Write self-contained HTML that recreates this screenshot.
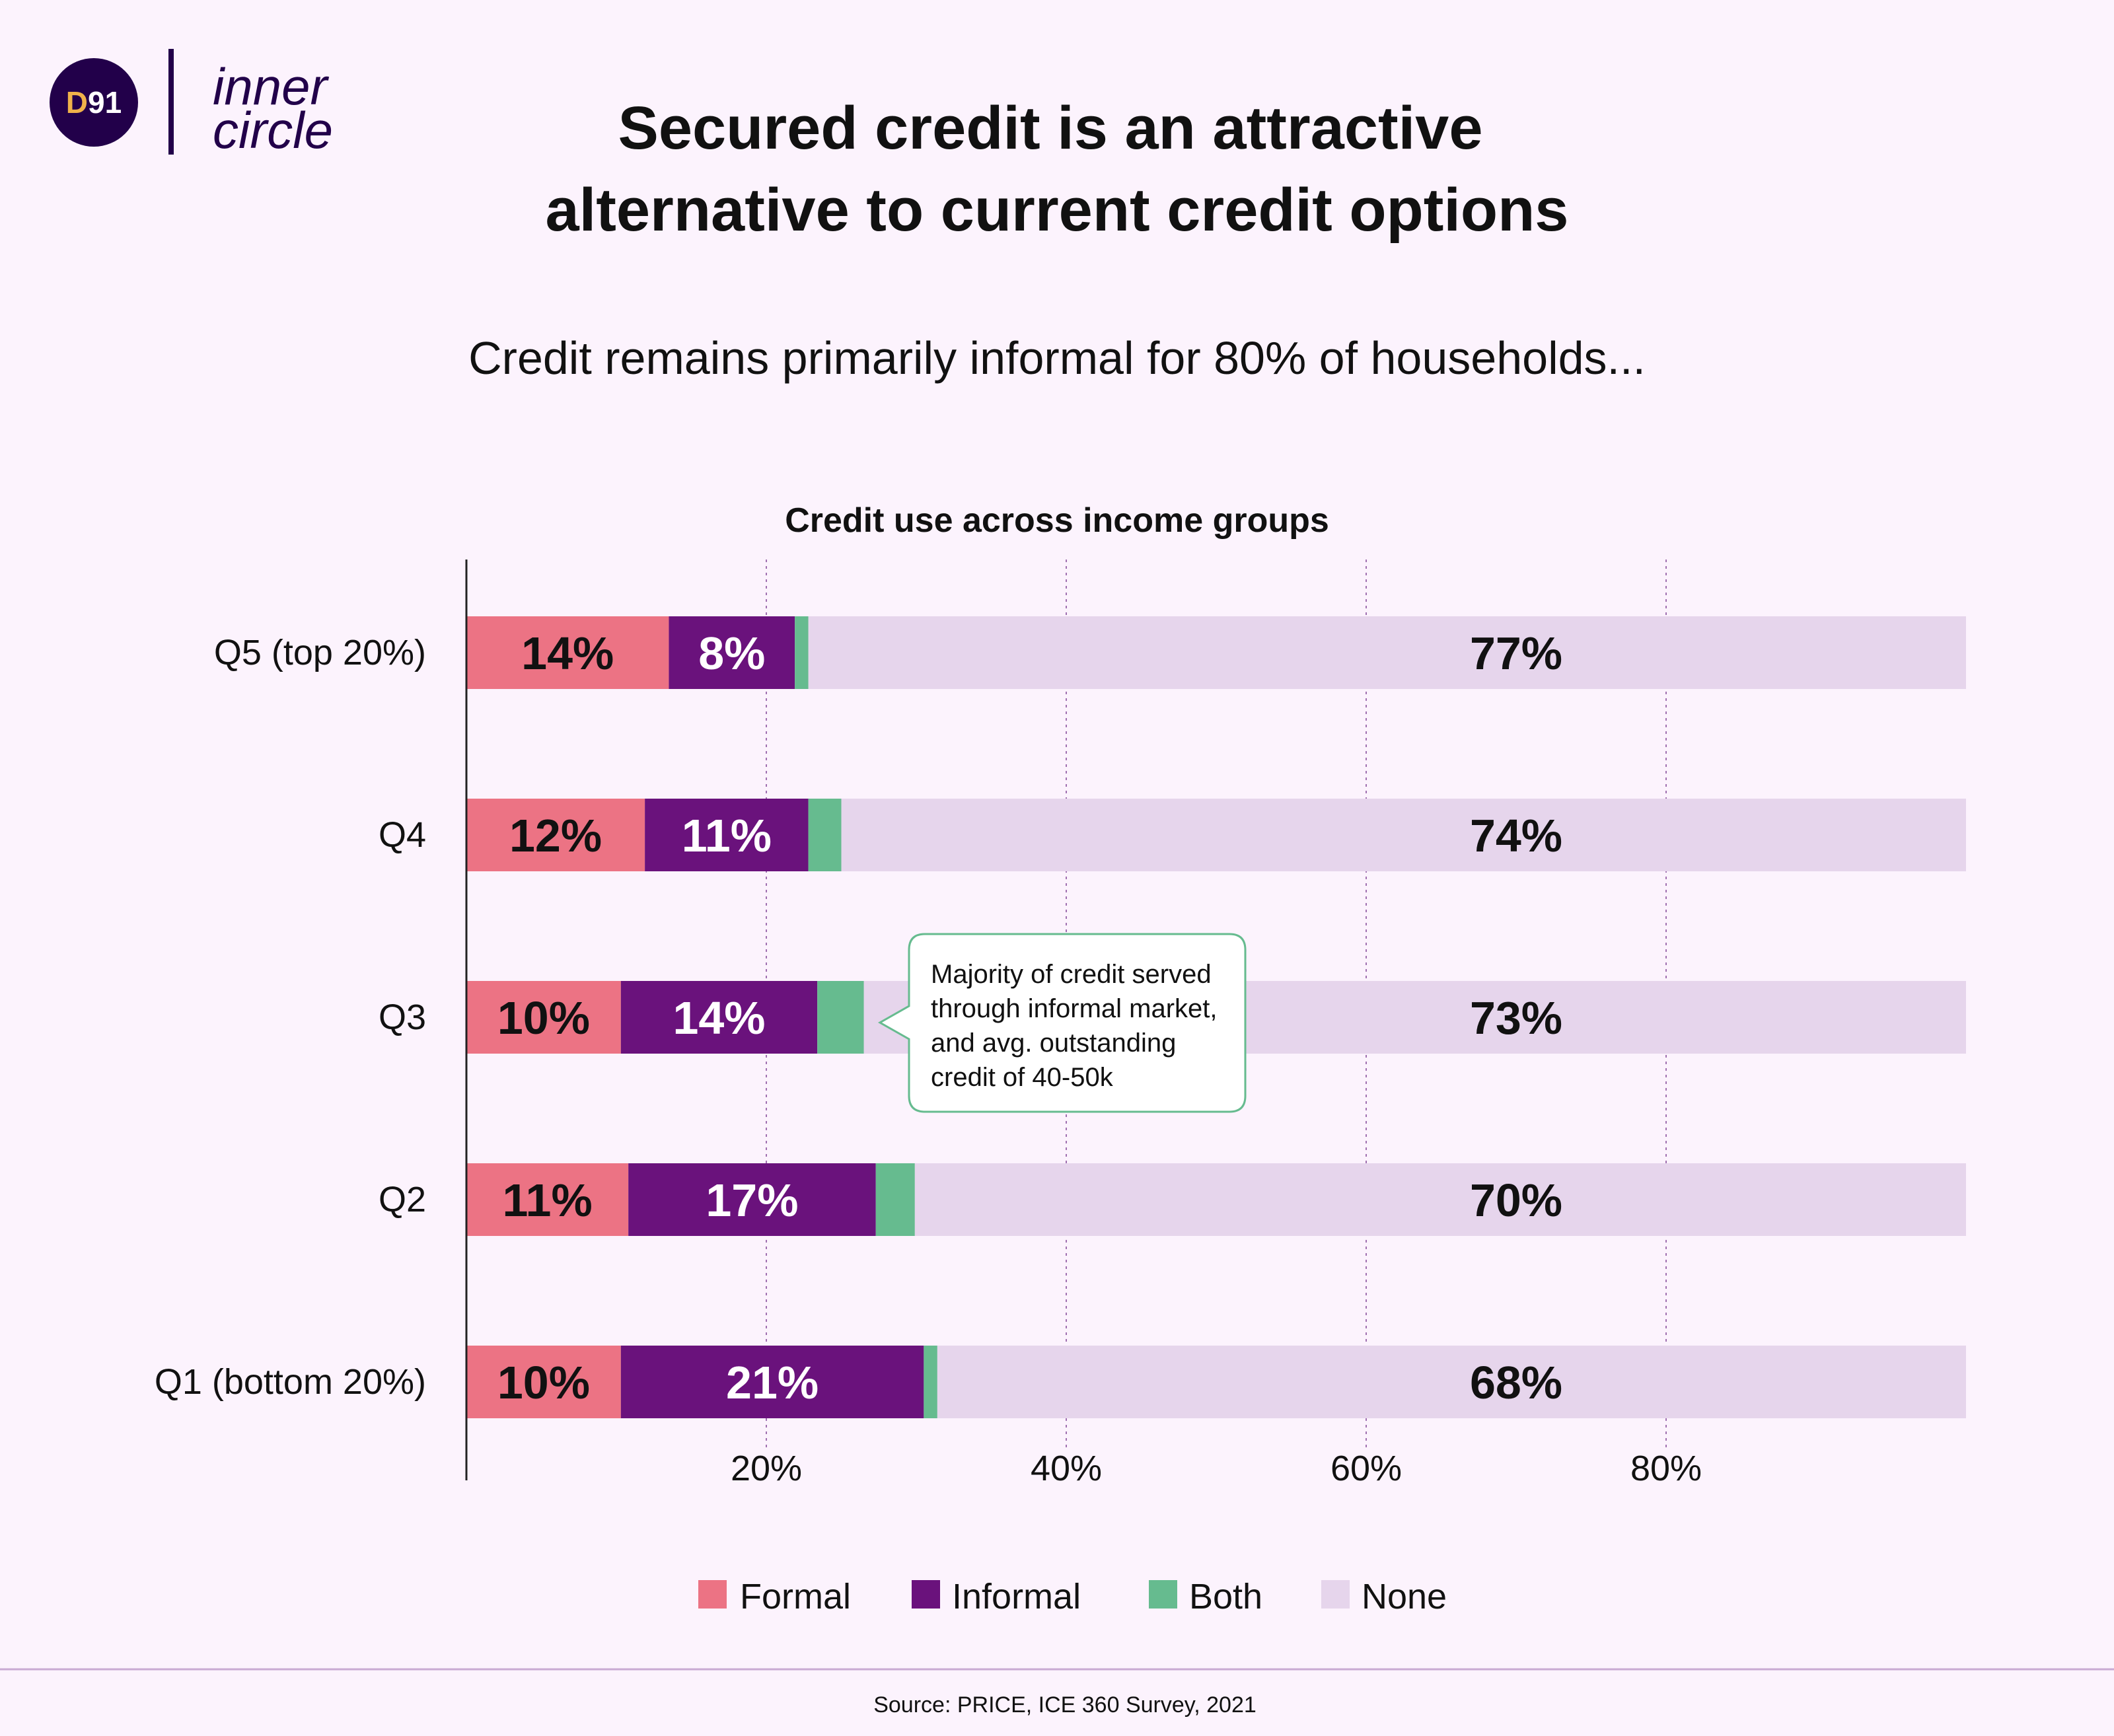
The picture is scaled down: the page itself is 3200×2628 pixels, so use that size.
<!DOCTYPE html>
<html><head><meta charset="utf-8"><style>
html,body{margin:0;padding:0;background:#fcf3fd}
svg{display:block;font-family:"Liberation Sans",sans-serif}
</style></head><body>
<svg id="chart" width="3200" height="2628" viewBox="0 0 3200 2628" xmlns="http://www.w3.org/2000/svg">
<rect width="3200" height="2628" fill="#fcf3fd"/>
<g>
<circle cx="142" cy="155" r="67" fill="#22004a"/>
<text x="142" y="171" text-anchor="middle" font-size="46" font-weight="bold"><tspan fill="#f0b24a">D</tspan><tspan fill="#fff">91</tspan></text>
<rect x="255" y="74" width="8" height="160" fill="#22004a"/>
<text x="322" y="158" font-size="78" font-style="italic" fill="#22004a">inner</text>
<text x="322" y="224" font-size="78" font-style="italic" fill="#22004a">circle</text>
</g>
<text x="1590" y="225" text-anchor="middle" font-size="92" font-weight="bold" fill="#111">Secured credit is an attractive</text>
<text x="1600" y="349" text-anchor="middle" font-size="92" font-weight="bold" fill="#111">alternative to current credit options</text>
<text x="1600" y="566" text-anchor="middle" font-size="70" fill="#111">Credit remains primarily informal for 80% of households...</text>
<text x="1600" y="805" text-anchor="middle" font-size="52" font-weight="bold" fill="#111">Credit use across income groups</text>
<g id="grid"></g>
<g id="bars"></g>
<line x1="706" y1="847" x2="706" y2="2241" stroke="#222" stroke-width="3"/>
<g id="ticks"></g>
<g>
<path d="M1400 1414 H1861 Q1885 1414 1885 1438 V1659 Q1885 1683 1861 1683 H1400 Q1376 1683 1376 1659 V1573 L1332 1548 L1376 1523 V1438 Q1376 1414 1400 1414 Z" fill="#fff" stroke="#66bb8f" stroke-width="3"/>
<text x="1409" y="1488" font-size="40" fill="#111">Majority of credit served</text>
<text x="1409" y="1540" font-size="40" fill="#111">through informal market,</text>
<text x="1409" y="1592" font-size="40" fill="#111">and avg. outstanding</text>
<text x="1409" y="1644" font-size="40" fill="#111">credit of 40-50k</text>
</g>
<g>
<rect x="1057" y="2392" width="43" height="43" fill="#ec7384"/>
<text x="1120" y="2435" font-size="54" fill="#111">Formal</text>
<rect x="1380" y="2392" width="43" height="43" fill="#6a127c"/>
<text x="1441" y="2435" font-size="54" fill="#111">Informal</text>
<rect x="1739" y="2392" width="43" height="43" fill="#66bb8f"/>
<text x="1800" y="2435" font-size="54" fill="#111">Both</text>
<rect x="2000" y="2392" width="43" height="43" fill="#e6d5ec"/>
<text x="2061" y="2435" font-size="54" fill="#111">None</text>
</g>
<line x1="0" y1="2527" x2="3200" y2="2527" stroke="#c9a9d3" stroke-width="3"/>
<text x="1612" y="2592" text-anchor="middle" font-size="34" fill="#111">Source: PRICE, ICE 360 Survey, 2021</text>
</svg>
<script>
const categories = ["Q5 (top 20%)", "Q4", "Q3", "Q2", "Q1 (bottom 20%)"];
const formal = [13.5, 11.9, 10.3, 10.8, 10.3];
const informal = [8.4, 10.9, 13.1, 16.5, 20.2];
const both = [0.9, 2.2, 3.1, 2.6, 0.9];
const formalLabels = ["14%", "12%", "10%", "11%", "10%"];
const informalLabels = ["8%", "11%", "14%", "17%", "21%"];
const noneLabels = ["77%", "74%", "73%", "70%", "68%"];
const ticks = [20, 40, 60, 80];

const NS = "http://www.w3.org/2000/svg";
const x = v => 706 + v * 22.7;
const yTop = i => 933 + i * 276;
const BH = 110;
function mk(tag, attrs, parent, txt){
  const e = document.createElementNS(NS, tag);
  for (const k in attrs) e.setAttribute(k, attrs[k]);
  if (txt !== undefined) e.textContent = txt;
  parent.appendChild(e); return e;
}
const grid = document.getElementById('grid');
const tg = document.getElementById('ticks');
ticks.forEach(t => {
  const l = mk('line', {x1:x(t), x2:x(t), y1:847, y2:2195, stroke:'#a070b0', 'stroke-width':2, 'stroke-dasharray':'4 6'}, grid);
  
  
  const tx = mk('text', {x:x(t), y:2241, 'text-anchor':'middle', 'font-size':54, fill:'#111'}, tg, t + '%');
  
  
});
const bars = document.getElementById('bars');
categories.forEach((c, i) => {
  const y = yTop(i);
  const cl = mk('text', {x:645, y:y + 73, 'text-anchor':'end', 'font-size':54, fill:'#111'}, bars, c);
  
  
  const f0 = 0, f1 = formal[i], i1 = f1 + informal[i], b1 = i1 + both[i];
  const r0 = mk('rect', {x:x(b1), y:y, width:x(100) - x(b1), height:BH, fill:'#e6d5ec'}, bars);
  
  
  const r1 = mk('rect', {x:x(f0), y:y, width:x(f1) - x(f0), height:BH, fill:'#ec7384'}, bars);
  
  
  const r2 = mk('rect', {x:x(f1), y:y, width:x(i1) - x(f1), height:BH, fill:'#6a127c'}, bars);
  
  
  const r3 = mk('rect', {x:x(i1), y:y, width:x(b1) - x(i1), height:BH, fill:'#66bb8f'}, bars);
  
  
  const t1 = mk('text', {x:(x(f0) + x(f1)) / 2, y:y + 80, 'text-anchor':'middle', 'font-size':70, 'font-weight':'bold', fill:'#111'}, bars, formalLabels[i]);
  
  
  const t2 = mk('text', {x:(x(f1) + x(i1)) / 2, y:y + 80, 'text-anchor':'middle', 'font-size':70, 'font-weight':'bold', fill:'#fff'}, bars, informalLabels[i]);
  
  
  const t3 = mk('text', {x:x(70), y:y + 80, 'text-anchor':'middle', 'font-size':70, 'font-weight':'bold', fill:'#111'}, bars, noneLabels[i]);
  
  
});
</script>
</body></html>
